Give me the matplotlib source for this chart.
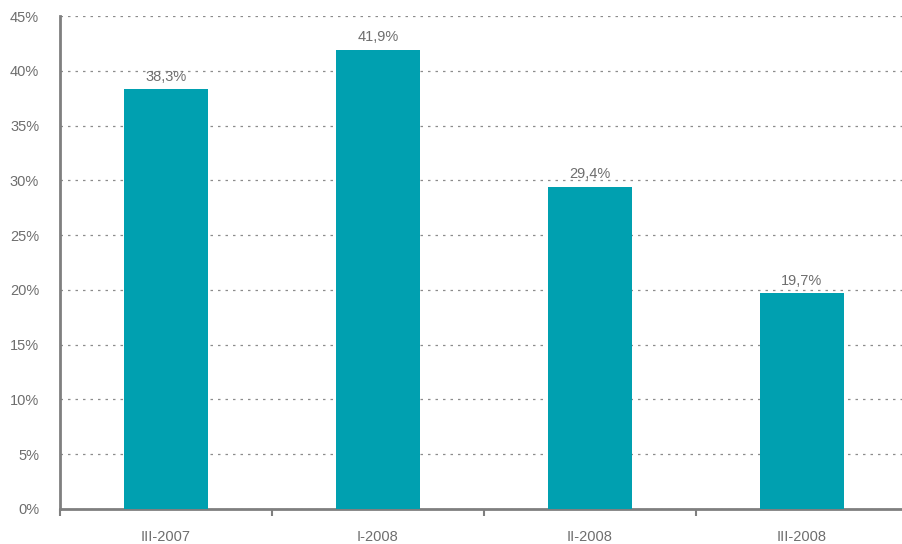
import matplotlib.pyplot as plt
import numpy as np

# data
categories = ['III-2007', 'I-2008', 'II-2008', 'III-2008']
values = [38.3, 41.9, 29.4, 19.7]
value_labels = ['38,3%', '41,9%', '29,4%', '19,7%']
yticks = [0, 5, 10, 15, 20, 25, 30, 35, 40, 45]

plt.rcParams['font.family'] = ['Liberation Sans', 'DejaVu Sans']

fig = plt.figure(figsize=(9.02, 5.44), dpi=100)
ax = fig.add_axes([60 / 902, 35 / 544, 848 / 902, 493 / 544])

x = np.arange(len(categories))
bars = ax.bar(x, values, width=0.4, color='#00A0B0', zorder=3)

for xi, v, lab in zip(x, values, value_labels):
    ax.text(xi, v + 0.5, lab, ha='center', va='bottom', fontsize=10.5, color='#6e6e6e')

ax.set_xlim(-0.5, len(categories) - 0.5)
ax.set_ylim(0, 45)
ax.set_yticks(yticks)
ax.set_yticklabels([f'{t}%' for t in yticks])
ax.set_xticks(x)
ax.set_xticklabels(categories)

# ticks at category boundaries on x
ax.set_xticks(np.arange(-0.5, len(categories), 1), minor=True)
ax.tick_params(axis='x', which='major', length=0, pad=15, labelsize=10.5, labelcolor='#6e6e6e')
ax.tick_params(axis='x', which='minor', length=5, width=1.5, color='#7f7f7f', direction='out')
ax.tick_params(axis='y', length=0, pad=15, labelsize=10.5, labelcolor='#6e6e6e')

ax.yaxis.grid(True, linestyle=(0, (2, 4)), color='#8c8c8c', linewidth=0.9, zorder=0)
ax.set_axisbelow(True)

for s in ['top', 'right']:
    ax.spines[s].set_visible(False)
for s in ['left', 'bottom']:
    ax.spines[s].set_color('#7f7f7f')
    ax.spines[s].set_linewidth(2)

fig.savefig('out.png', dpi=100)
